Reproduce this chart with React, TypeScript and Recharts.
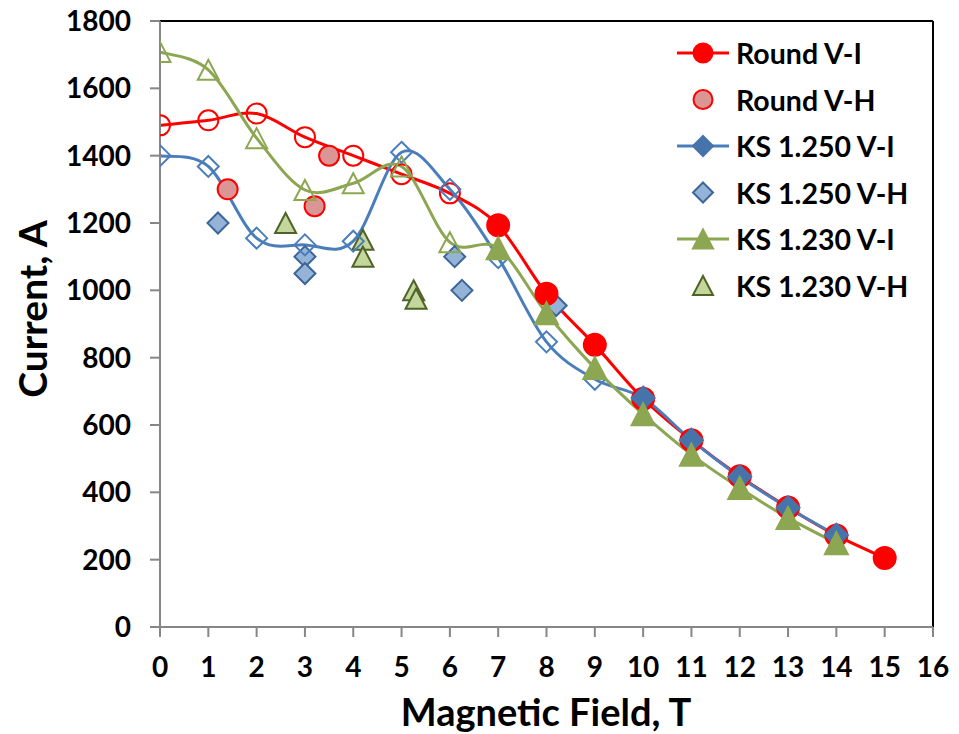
import React from 'react';
import {
  ComposedChart,
  XAxis,
  YAxis,
  Line,
  Scatter,
  Legend,
  Label,
  ReferenceLine,
} from 'recharts';

// magnetic field points used by the V-I curves
const fields = [0, 1, 2, 3, 4, 5, 6, 7, 8, 9, 10, 11, 12, 13, 14, 15];

const roundVI = [1490, 1505, 1525, 1455, 1400, 1345, 1288, 1193, 990, 838, 678, 555, 448, 355, 272, 205];
const ks1250VI = [1400, 1368, 1155, 1135, 1146, 1410, 1300, 1097, 847, 736, 680, 555, 446, 354, 273];
const ks1230VI = [1708, 1655, 1452, 1298, 1318, 1368, 1143, 1125, 932, 769, 632, 512, 413, 324, 249];

const roundVHField = [1.4, 3.2, 3.5];
const roundVHCurrent = [1300, 1250, 1400];
const ks1250VHField = [1.2, 3, 3, 6.1, 6.25, 8.2];
const ks1250VHCurrent = [1200, 1100, 1050, 1100, 1000, 955];
const ks1230VHField = [2.6, 4.2, 4.2, 5.25, 5.3];
const ks1230VHCurrent = [1200, 1150, 1100, 1000, 975];

const seriesNames = ['Round V-I', 'Round V-H', 'KS 1.250 V-I', 'KS 1.250 V-H', 'KS 1.230 V-I', 'KS 1.230 V-H'];

const xTicks = [0, 1, 2, 3, 4, 5, 6, 7, 8, 9, 10, 11, 12, 13, 14, 15, 16];
const yTicks = [0, 200, 400, 600, 800, 1000, 1200, 1400, 1600, 1800];

// first index drawn with a filled marker on each V-I curve
const roundFilledFrom = 7;
const ks1250FilledFrom = 10;
const ks1230FilledFrom = 7;

const toPoints = (xs: number[], ys: number[]) => ys.map((y, i) => ({ x: xs[i], y }));

const roundVIData = toPoints(fields, roundVI);
const ks1250VIData = toPoints(fields, ks1250VI);
const ks1230VIData = toPoints(fields, ks1230VI);
const roundVHData = toPoints(roundVHField, roundVHCurrent);
const ks1250VHData = toPoints(ks1250VHField, ks1250VHCurrent);
const ks1230VHData = toPoints(ks1230VHField, ks1230VHCurrent);

const FONT = 'Lato, "DejaVu Sans", sans-serif';
const RED = '#FF0000';
const BLUE = '#4A7EBB';
const BLUE_FILL = '#4674AA';
const GREEN = '#8CA652';
const GRAY = '#868686';

// Excel-like smoothed line (Catmull-Rom bezier)
const excelSmooth = (ctx: any) => {
  let pts: number[][] = [];
  return {
    areaStart() {},
    areaEnd() {},
    lineStart() {
      pts = [];
    },
    point(x: number, y: number) {
      pts.push([+x, +y]);
    },
    lineEnd() {
      if (!pts.length) return;
      ctx.moveTo(pts[0][0], pts[0][1]);
      for (let i = 0; i < pts.length - 1; i++) {
        const p0 = pts[i - 1] || pts[i];
        const p1 = pts[i];
        const p2 = pts[i + 1];
        const p3 = pts[i + 2] || p2;
        ctx.bezierCurveTo(
          p1[0] + (p2[0] - p0[0]) / 6,
          p1[1] + (p2[1] - p0[1]) / 6,
          p2[0] - (p3[0] - p1[0]) / 6,
          p2[1] - (p3[1] - p1[1]) / 6,
          p2[0],
          p2[1]
        );
      }
    },
  };
};

type MarkerProps = { kind: string; cx: number; cy: number; fill: string; stroke: string; r?: number };

const Marker = ({ kind, cx, cy, fill, stroke, r = 10.5 }: MarkerProps) => {
  if (cx == null || cy == null) return null;
  if (kind === 'circle') {
    return <circle cx={cx} cy={cy} r={r} fill={fill} stroke={stroke} strokeWidth={2} />;
  }
  if (kind === 'diamond') {
    const d = r + 0.5;
    return (
      <polygon
        points={`${cx},${cy - d} ${cx + d},${cy} ${cx},${cy + d} ${cx - d},${cy}`}
        fill={fill}
        stroke={stroke}
        strokeWidth={2}
      />
    );
  }
  const w = r + 0.5;
  const h = r;
  return (
    <polygon
      points={`${cx},${cy - h} ${cx + w},${cy + h} ${cx - w},${cy + h}`}
      fill={fill}
      stroke={stroke}
      strokeWidth={2}
    />
  );
};

const makeDot = (kind: string, color: string, fillColor: string, filledFrom: number) => (props: any) => {
  const { cx, cy, index } = props;
  const filled = index >= filledFrom;
  return (
    <Marker
      key={`${kind}-${index}`}
      kind={kind}
      cx={cx}
      cy={cy}
      fill={filled ? fillColor : 'none'}
      stroke={filled ? fillColor : color}
      r={filled ? 11 : 10}
    />
  );
};

const makeShape = (kind: string, fill: string, stroke: string) => (props: any) => (
  <Marker kind={kind} cx={props.cx} cy={props.cy} fill={fill} stroke={stroke} r={10} />
);

const legendRows = [
  { kind: 'circle', line: RED, fill: RED, stroke: RED },
  { kind: 'circle', line: null, fill: '#D99694', stroke: RED },
  { kind: 'diamond', line: BLUE, fill: BLUE_FILL, stroke: BLUE_FILL },
  { kind: 'diamond', line: null, fill: '#95B3D7', stroke: '#3C6699' },
  { kind: 'triangle', line: GREEN, fill: GREEN, stroke: GREEN },
  { kind: 'triangle', line: null, fill: '#C3D69B', stroke: '#4F6228' },
];

const LegendBox = () => (
  <svg width={290} height={290}>
    {legendRows.map((row, i) => {
      const y = 28 + i * 46.5;
      return (
        <g key={seriesNames[i]}>
          {row.line && <line x1={17} x2={69} y1={y} y2={y} stroke={row.line} strokeWidth={3} />}
          <Marker kind={row.kind} cx={43} cy={y} fill={row.fill} stroke={row.stroke} r={9.5} />
          <text
            x={76}
            y={y}
            dominantBaseline="central"
            fontFamily={FONT}
            fontWeight={700}
            fontSize={28.5}
            fill="#000"
          >
            {seriesNames[i]}
          </text>
        </g>
      );
    })}
  </svg>
);

const axisTick = { fill: '#000', fontSize: 28, fontWeight: 700, fontFamily: FONT };

export default function App() {
  return (
    <div style={{ position: 'absolute', left: 0, top: 0, width: 959, height: 734, background: '#fff' }}>
      <ComposedChart width={959} height={734} margin={{ top: 21, right: 26, bottom: 0, left: 0 }}>
        <XAxis
          type="number"
          dataKey="x"
          domain={[0, 16]}
          ticks={xTicks}
          interval={0}
          height={107}
          tickSize={10}
          tickMargin={20}
          axisLine={{ stroke: GRAY, strokeWidth: 2 }}
          tickLine={{ stroke: GRAY, strokeWidth: 2 }}
          tick={axisTick}
          allowDataOverflow
        >
          <Label
            content={() => (
              <text x={546} y={726} textAnchor="middle" fontFamily={FONT} fontWeight={700} fontSize={38} fill="#000">
                Magnetic Field, T
              </text>
            )}
          />
        </XAxis>
        <YAxis
          type="number"
          domain={[0, 1800]}
          ticks={yTicks}
          interval={0}
          width={160}
          tickSize={10}
          tickMargin={19}
          axisLine={{ stroke: GRAY, strokeWidth: 2 }}
          tickLine={{ stroke: GRAY, strokeWidth: 2 }}
          tick={axisTick}
          allowDataOverflow
        >
          <Label
            content={() => (
              <text
                x={47}
                y={309}
                transform="rotate(-90 47 309)"
                textAnchor="middle"
                fontFamily={FONT}
                fontWeight={700}
                fontSize={39}
                fill="#000"
              >
                Current, A
              </text>
            )}
          />
        </YAxis>
        <ReferenceLine y={1800} stroke="#000" strokeWidth={2} />
        <ReferenceLine x={16} stroke="#000" strokeWidth={2} />
        <Legend
          layout="vertical"
          align="center"
          verticalAlign="middle"
          wrapperStyle={{ left: 660, top: 25, width: 290, height: 290 }}
          content={() => <LegendBox />}
        />
        <Line
          data={roundVIData}
          dataKey="y"
          name={seriesNames[0]}
          type={excelSmooth as any}
          stroke={RED}
          strokeWidth={3}
          dot={makeDot('circle', RED, RED, roundFilledFrom)}
          activeDot={false}
          isAnimationActive={false}
        />
        <Scatter
          data={roundVHData}
          dataKey="y"
          name={seriesNames[1]}
          shape={makeShape('circle', '#D99694', RED)}
          isAnimationActive={false}
        />
        <Line
          data={ks1250VIData}
          dataKey="y"
          name={seriesNames[2]}
          type={excelSmooth as any}
          stroke={BLUE}
          strokeWidth={3}
          dot={makeDot('diamond', BLUE, BLUE_FILL, ks1250FilledFrom)}
          activeDot={false}
          isAnimationActive={false}
        />
        <Scatter
          data={ks1250VHData}
          dataKey="y"
          name={seriesNames[3]}
          shape={makeShape('diamond', '#95B3D7', '#3C6699')}
          isAnimationActive={false}
        />
        <Line
          data={ks1230VIData}
          dataKey="y"
          name={seriesNames[4]}
          type={excelSmooth as any}
          stroke={GREEN}
          strokeWidth={3}
          dot={makeDot('triangle', GREEN, GREEN, ks1230FilledFrom)}
          activeDot={false}
          isAnimationActive={false}
        />
        <Scatter
          data={ks1230VHData}
          dataKey="y"
          name={seriesNames[5]}
          shape={makeShape('triangle', '#C3D69B', '#4F6228')}
          isAnimationActive={false}
        />
      </ComposedChart>
    </div>
  );
}
